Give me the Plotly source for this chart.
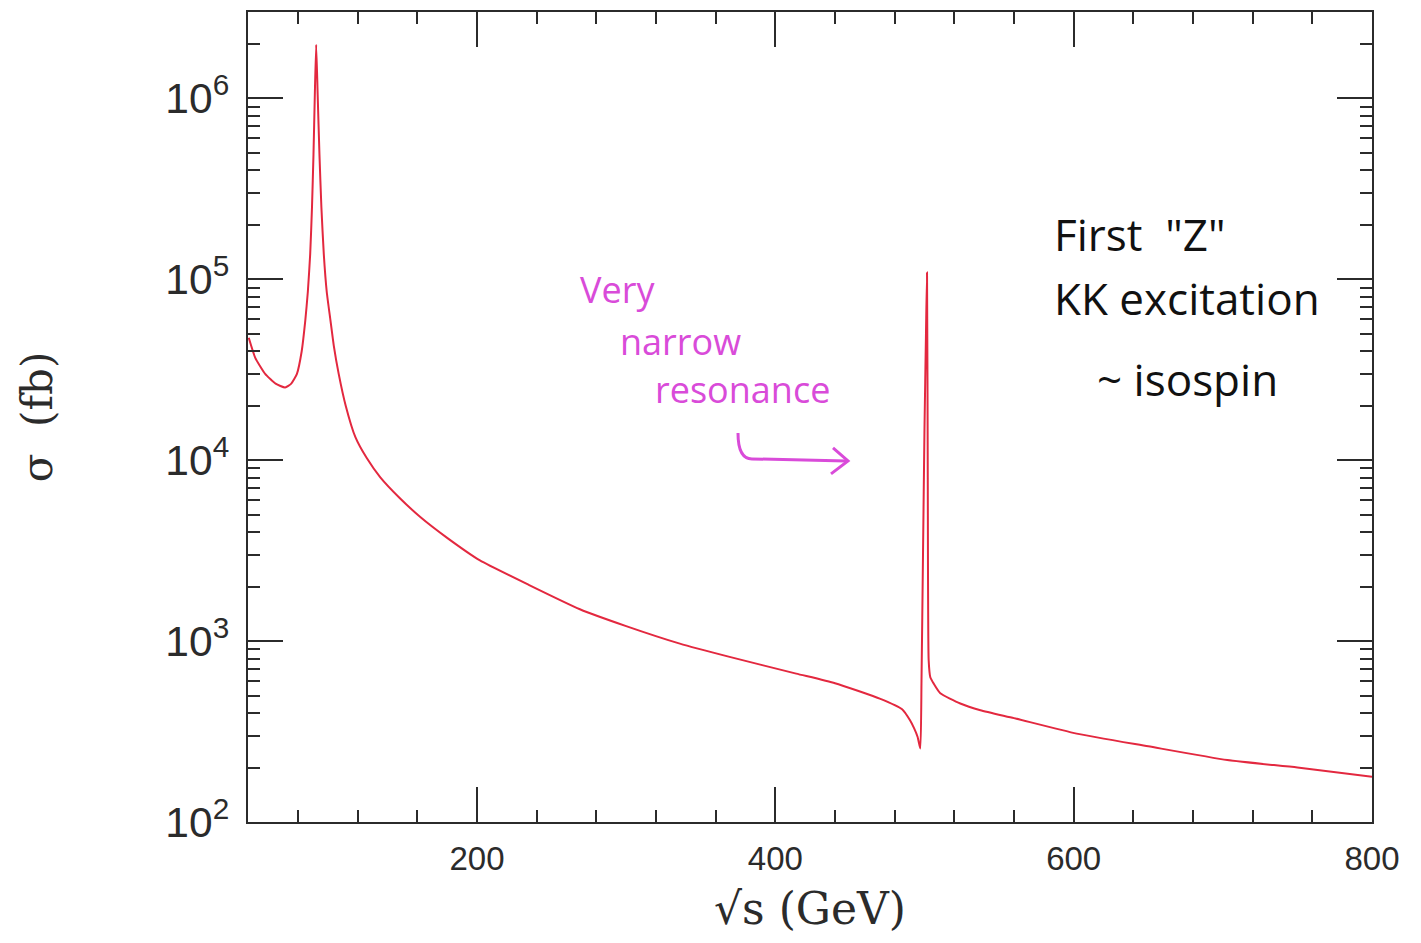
import plotly.graph_objects as go

# sqrt(s) in GeV and cross section in fb
sqrt_s = [47, 51.3, 58, 65, 71.4, 75.5, 79.3, 82.5, 84.9, 86.6, 88.2, 89.4, 90.4, 91.3,
          92.2, 93.2, 94.4, 95.7, 97.3, 99.3, 101.8, 104, 107.3, 112, 118.5, 126, 135.2,
          148, 162, 180, 202, 235, 269, 300, 336, 370, 414, 440, 470, 485, 490.3, 493,
          495.4, 497.2, 498, 499, 500, 501, 501.7, 502.2, 502.8, 503.9, 506.3, 510.6,
          524, 537.5, 560, 602, 650, 703, 750, 800]
sigma_fb = [4.74e4, 3.69e4, 3.0e4, 2.65e4, 2.52e4, 2.65e4, 3.0e4, 4.0e4, 5.9e4, 8.5e4,
            1.38e5, 2.5e5, 4.9e5, 1.05e6, 1.98e6, 1.05e6, 4.9e5, 2.5e5, 1.38e5, 8.5e4,
            5.9e4, 4.3e4, 3.0e4, 2.0e4, 1.34e4, 1.03e4, 8.04e3, 6.2e3, 4.85e3, 3.72e3,
            2.79e3, 2.04e3, 1.5e3, 1.21e3, 968, 815, 661, 585, 481, 420, 365, 330,
            295, 255, 600, 3000, 1.5e4, 5.0e4, 1.09e5, 8000, 783, 631, 580, 515,
            452, 415, 375, 308, 262, 220, 200, 178]

x_ticks = [200, 400, 600, 800]
x_range = [46.5, 800]
y_range_log = [2, 6.477]

axis_color = "#2b2b2b"
curve_color = "#e3283f"
pen_magenta = "#d94bd9"

fig = go.Figure()
fig.add_trace(go.Scatter(x=sqrt_s, y=sigma_fb, mode="lines",
                         line=dict(color=curve_color, width=2, shape="spline", smoothing=0.5),
                         showlegend=False))

W, H = 1421, 943
L, R, T, B = 248, 49, 10, 121
pw, ph = W - L - R, H - T - B


def px(xp):
    return (xp - L) / pw


def py(yp):
    return (H - B - yp) / ph


fig.update_layout(
    width=W, height=H,
    margin=dict(l=L, r=R, t=T, b=B),
    paper_bgcolor="white", plot_bgcolor="white",
    xaxis=dict(
        range=x_range, tickvals=x_ticks, ticks="inside", ticklen=35, tickwidth=2,
        tickcolor=axis_color, showline=True, linecolor=axis_color, linewidth=2,
        mirror="allticks", showgrid=False, zeroline=False, ticklabelstandoff=6,
        minor=dict(dtick=40, tick0=0, ticks="inside", ticklen=12, tickwidth=2,
                   tickcolor=axis_color, showgrid=False),
        tickfont=dict(family="Liberation Sans", size=33, color=axis_color),
        title=dict(text="√s (GeV)", standoff=18,
                   font=dict(family="DejaVu Serif", size=44, color=axis_color)),
    ),
    yaxis=dict(
        type="log", range=y_range_log, dtick=1, exponentformat="power",
        ticks="inside", ticklen=35, tickwidth=2, tickcolor=axis_color,
        showline=True, linecolor=axis_color, linewidth=2, mirror="allticks",
        showgrid=False, zeroline=False, ticklabelstandoff=10,
        minor=dict(dtick="D1", ticks="inside", ticklen=12, tickwidth=2,
                   tickcolor=axis_color, showgrid=False),
        tickfont=dict(family="Liberation Sans", size=34, color=axis_color),
        title=dict(text="σ  (fb)", standoff=100,
                   font=dict(family="DejaVu Serif", size=42, color=axis_color)),
    ),
)

hand_black = dict(family="Open Sans", size=44, color="#111111")
hand_mag = dict(family="Open Sans", size=36, color=pen_magenta)
notes = [
    ("First  \"Z\"", 1140, 233, hand_black),
    ("KK excitation", 1187, 297, hand_black),
    ("~ isospin", 1187, 378, hand_black),
    ("Very", 617, 288, hand_mag),
    ("narrow", 680, 340, hand_mag),
    ("resonance", 742, 388, hand_mag),
]
for txt, xp, yp, f in notes:
    fig.add_annotation(text=txt, x=px(xp), y=py(yp), xref="paper", yref="paper",
                       showarrow=False, font=f, xanchor="center", yanchor="middle")

# hand-drawn arrow
fig.add_shape(type="path", xref="paper", yref="paper",
              path=f"M {px(738)} {py(432)} Q {px(738)} {py(458)} {px(752)} {py(458)} L {px(846)} {py(460)}",
              line=dict(color=pen_magenta, width=3))
fig.add_shape(type="path", xref="paper", yref="paper",
              path=f"M {px(833)} {py(447)} L {px(848)} {py(460)} L {px(831)} {py(473)}",
              line=dict(color=pen_magenta, width=3))

fig.write_html("out.html")
